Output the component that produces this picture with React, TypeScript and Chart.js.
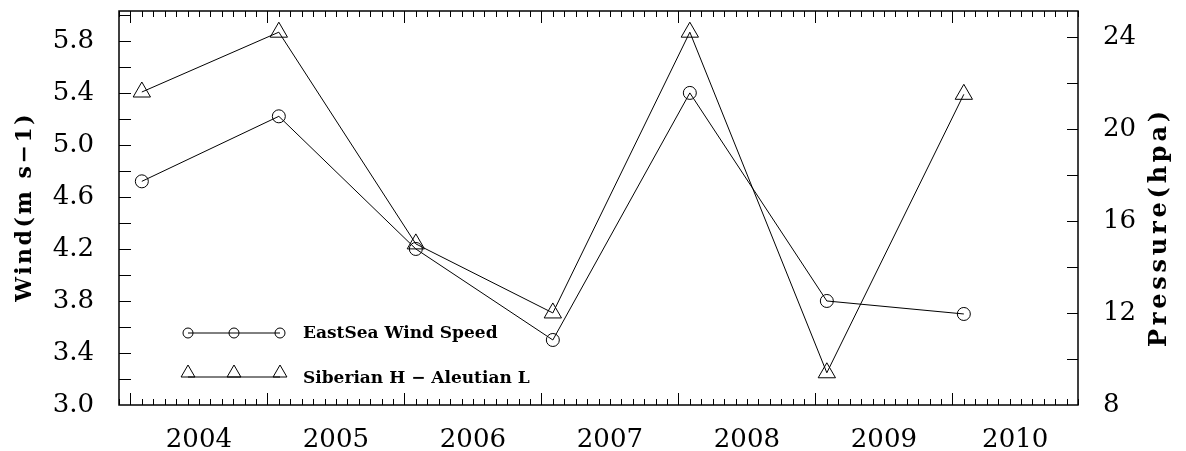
import React, { useEffect, useRef } from 'react';
import { Chart, registerables } from 'chart.js';

Chart.register(...registerables);

// ---- data ----
const YEARS = [2004, 2005, 2006, 2007, 2008, 2009, 2010];
const WIND = [4.72, 5.22, 4.2, 3.5, 5.4, 3.8, 3.7];
const PRESSURE = [21.6, 24.2, 15.0, 12.0, 24.2, 9.4, 21.5];
const WIND_TICKS = [3.0, 3.4, 3.8, 4.2, 4.6, 5.0, 5.4, 5.8];
const PRESSURE_TICKS = [8, 12, 16, 20, 24];
const SERIES_NAMES = ['EastSea Wind Speed', 'Siberian H \u2212 Aleutian L'];
const AXIS_TITLES = ['Wind(m s\u22121)', 'Pressure(hpa)'];

const X_MIN = 2003 + 11 / 12;
const X_MAX = 2010 + 11 / 12;
const MONTH_OFFSET = 1 / 12;

const TICK_FONT = { family: 'DejaVu Serif', size: 26 };
const LEGEND_FONT = 'bold 17px "DejaVu Serif"';

function drawVertical(ctx: any, text: string, cx: number, cy: number, font: string, target: number) {
  ctx.save();
  ctx.font = font;
  ctx.letterSpacing = '0px';
  const w = ctx.measureText(text).width;
  const sp = Math.max(0, (target - w) / text.length);
  ctx.letterSpacing = sp + 'px';
  ctx.translate(cx, cy);
  ctx.rotate(-Math.PI / 2);
  ctx.textAlign = 'center';
  ctx.textBaseline = 'middle';
  ctx.fillStyle = '#000';
  ctx.fillText(text, sp / 2, 0);
  ctx.restore();
}

function triangle(ctx: any, x: number, y: number, r: number) {
  ctx.beginPath();
  for (let i = 0; i < 3; i++) {
    const a = (i * 2 * Math.PI) / 3;
    const px = x + Math.sin(a) * r;
    const py = y - Math.cos(a) * r;
    if (i === 0) ctx.moveTo(px, py);
    else ctx.lineTo(px, py);
  }
  ctx.closePath();
  ctx.stroke();
}

const decorations = {
  id: 'decorations',
  afterDraw(chart: any) {
    const { ctx, chartArea: a, scales } = chart;
    const x = scales.x;
    const yl = scales.y;
    const yr = scales.y1;
    ctx.save();
    ctx.strokeStyle = '#000';
    ctx.fillStyle = '#000';
    ctx.lineWidth = 1;
    ctx.beginPath();
    const k0 = Math.ceil(x.min * 12 - 1e-6);
    const k1 = Math.floor(x.max * 12 + 1e-6);
    for (let k = k0; k <= k1; k++) {
      const px = Math.round(x.getPixelForValue(k / 12)) + 0.5;
      const len = k % 12 === 0 ? 12 : 6;
      ctx.moveTo(px, a.bottom);
      ctx.lineTo(px, a.bottom - len);
      ctx.moveTo(px, a.top);
      ctx.lineTo(px, a.top + len);
    }
    for (let k = 1; yl.min + k * 0.2 < yl.max - 0.01; k++) {
      const py = Math.round(yl.getPixelForValue(yl.min + k * 0.2)) + 0.5;
      ctx.moveTo(a.left, py);
      ctx.lineTo(a.left + 12, py);
    }
    for (let k = 1; yr.min + k * 2 < yr.max - 0.01; k++) {
      const py = Math.round(yr.getPixelForValue(yr.min + k * 2)) + 0.5;
      ctx.moveTo(a.right, py);
      ctx.lineTo(a.right - 11, py);
    }
    ctx.stroke();

    ctx.lineWidth = 1.5;
    ctx.strokeRect(a.left, a.top, a.right - a.left, a.bottom - a.top);

    // axis titles
    drawVertical(ctx, AXIS_TITLES[0], 25, (a.top + a.bottom) / 2, 'bold 22px "DejaVu Serif"', 190);
    drawVertical(ctx, AXIS_TITLES[1], 1160, (a.top + a.bottom) / 2 + 21, 'bold 24px "DejaVu Serif"', 240);

    // legend
    ctx.lineWidth = 1;
    const lx = [a.left + 69, a.left + 115, a.left + 161];
    const r1 = a.bottom - 72;
    const r2 = a.bottom - 28;
    ctx.beginPath();
    ctx.moveTo(lx[0], r1);
    ctx.lineTo(lx[2], r1);
    ctx.moveTo(lx[0], r2);
    ctx.lineTo(lx[2], r2);
    ctx.stroke();
    for (const cx of lx) {
      ctx.beginPath();
      ctx.arc(cx, r1, 5, 0, Math.PI * 2);
      ctx.stroke();
      triangle(ctx, cx, r2 - 4, 8);
    }
    ctx.font = LEGEND_FONT;
    ctx.textAlign = 'left';
    ctx.textBaseline = 'alphabetic';
    ctx.fillText(SERIES_NAMES[0], a.left + 184, a.bottom - 67);
    ctx.fillText(SERIES_NAMES[1], a.left + 184, a.bottom - 22);
    ctx.restore();
  },
};

function noPad(s: any) {
  s.paddingTop = 0;
  s.paddingBottom = 0;
  s.paddingLeft = 0;
  s.paddingRight = 0;
}

export default function App() {
  const ref = useRef<HTMLCanvasElement>(null);
  useEffect(() => {
    const canvas = ref.current!;
    const chart = new Chart(canvas, {
      type: 'line',
      data: {
        datasets: [
          {
            label: SERIES_NAMES[0],
            data: YEARS.map((y, i) => ({ x: y + MONTH_OFFSET, y: WIND[i] })),
            yAxisID: 'y',
            borderColor: '#000',
            borderWidth: 1,
            pointStyle: 'circle',
            pointRadius: 6.5,
            pointBorderColor: '#000',
            pointBackgroundColor: 'rgba(0,0,0,0)',
            pointBorderWidth: 1,
            tension: 0,
          },
          {
            label: SERIES_NAMES[1],
            data: YEARS.map((y, i) => ({ x: y + MONTH_OFFSET, y: PRESSURE[i] })),
            yAxisID: 'y1',
            borderColor: '#000',
            borderWidth: 1,
            pointStyle: 'triangle',
            pointRadius: 10,
            pointBorderColor: '#000',
            pointBackgroundColor: 'rgba(0,0,0,0)',
            pointBorderWidth: 1,
            tension: 0,
          },
        ],
      } as any,
      options: {
        animation: false,
        responsive: true,
        maintainAspectRatio: false,
        events: [],
        layout: { padding: { top: 9, left: 0, right: 0, bottom: 0 } },
        plugins: { legend: { display: false }, tooltip: { enabled: false } },
        scales: {
          x: {
            type: 'linear',
            position: 'bottom',
            min: X_MIN,
            max: X_MAX,
            grid: { display: false },
            border: { display: false },
            ticks: {
              font: TICK_FONT,
              color: '#000',
              padding: 12,
              maxRotation: 0,
              autoSkip: false,
              callback: (v: any) => String(Math.floor(Number(v) + 1e-6)),
            },
            afterBuildTicks: (s: any) => {
              s.ticks = YEARS.map((y) => ({
                value: (Math.max(y, X_MIN) + Math.min(y + 1, X_MAX)) / 2,
              }));
            },
            afterFit: (s: any) => {
              s.height = 46;
              noPad(s);
            },
          },
          y: {
            type: 'linear',
            position: 'left',
            min: 3,
            max: 6.03,
            grid: { display: false },
            border: { display: false },
            ticks: {
              font: TICK_FONT,
              color: '#000',
              padding: 17,
              callback: (v: any) => Number(v).toFixed(1),
            },
            afterBuildTicks: (s: any) => {
              s.ticks = WIND_TICKS.map((v) => ({ value: v }));
            },
            afterFit: (s: any) => {
              s.width = 119;
              noPad(s);
            },
          },
          y1: {
            type: 'linear',
            position: 'right',
            min: 8,
            max: 25.12,
            grid: { display: false },
            border: { display: false },
            ticks: {
              font: TICK_FONT,
              color: '#000',
              padding: 17,
              callback: (v: any) => String(v),
            },
            afterBuildTicks: (s: any) => {
              s.ticks = PRESSURE_TICKS.map((v) => ({ value: v }));
            },
            afterFit: (s: any) => {
              s.width = 108;
              noPad(s);
            },
          },
        },
      } as any,
      plugins: [decorations],
    });
    return () => chart.destroy();
  }, []);
  return (
    <div style={{ position: 'absolute', left: 0, top: 0, width: 1186, height: 451, background: '#fff' }}>
      <canvas ref={ref} />
    </div>
  );
}
